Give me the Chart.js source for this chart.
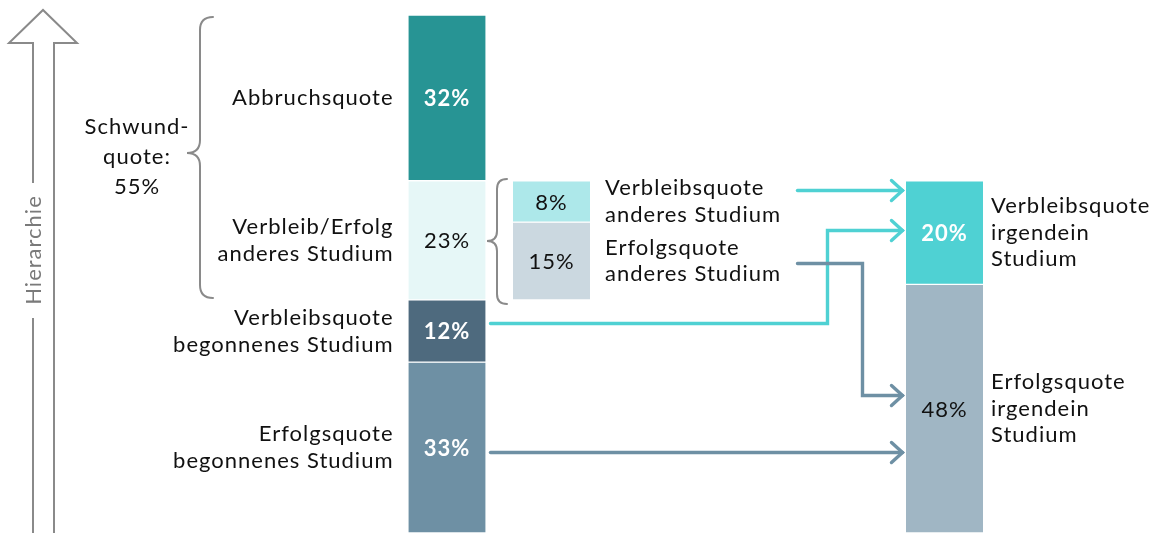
<!DOCTYPE html>
<html>
<head>
<meta charset="utf-8">
<script src="https://cdn.jsdelivr.net/npm/chart.js@4.4.1/dist/chart.umd.min.js"></script>
<style>
  html, body { margin: 0; background: #fff; }
  #wrap { width: 1161px; height: 533px; position: relative; }
</style>
</head>
<body>
<div id="wrap"><canvas id="chart"></canvas></div>
<script>
// Anteile in Prozent, von unten nach oben gestapelt
const begonnenLabels = ['Erfolgsquote\nbegonnenes Studium', 'Verbleibsquote\nbegonnenes Studium', 'Verbleib/Erfolg\nanderes Studium', 'Abbruchsquote'];
const begonnenValues = [33, 12, 23, 32];
const begonnenColors = ['#6e90a4', '#4e6a7e', '#e6f7f7', '#279494'];

const anderesLabels = ['Erfolgsquote\nanderes Studium', 'Verbleibsquote\nanderes Studium'];
const anderesValues = [15, 8];
const anderesColors = ['#cbd8e0', '#ade8ea'];

const irgendeinLabels = ['Erfolgsquote\nirgendein\nStudium', 'Verbleibsquote\nirgendein\nStudium'];
const irgendeinValues = [48, 20];
const irgendeinColors = ['#a0b6c4', '#4fd1d3'];

const schwundText = ['Schwund-', 'quote:', '55%'];
const hierarchieText = 'Hierarchie';

// layout
const COL_X = [447, 551.5, 944.5];
const BAR_W = 77;
const FONT = '"Lato", "Liberation Sans", sans-serif';
const TEXT = '#111111';
const TEAL = '#4fd1d3';
const SLATE = '#6e90a4';
const GREY = '#8a8a8a';

// the "anderes Studium" column sits on top of the begonnenes part (33 + 12)
const anderesBase = begonnenValues[0] + begonnenValues[1];

function stack(values, base, x) {
  let lo = base;
  return values.map(v => {
    const r = { x: x, y: [lo, lo + v] };
    lo += v;
    return r;
  });
}

function pct(v) { return v + '%'; }

// connectors: [x, y%] points
const arrows = [
  { color: TEAL, pts: [[797, 66.2], [902, 66.2]] },
  { color: TEAL, pts: [[490, 40.5], [827, 40.5], [827, 58.5], [902, 58.5]] },
  { color: SLATE, pts: [[797, 52.1], [862, 52.1], [862, 26.6], [902, 26.6]] },
  { color: SLATE, pts: [[490, 15.6], [902, 15.6]] }
];

function drawBrace(ctx, xEnd, xSpine, xTip, top, mid, bottom, r) {
  ctx.beginPath();
  ctx.moveTo(xEnd, top);
  ctx.quadraticCurveTo(xSpine, top, xSpine, top + r);
  ctx.lineTo(xSpine, mid - r);
  ctx.quadraticCurveTo(xSpine, mid, xTip, mid);
  ctx.quadraticCurveTo(xSpine, mid, xSpine, mid + r);
  ctx.lineTo(xSpine, bottom - r);
  ctx.quadraticCurveTo(xSpine, bottom, xEnd, bottom);
  ctx.stroke();
}

function drawLines(ctx, lines, x, yc, lh) {
  const y0 = yc - (lines.length - 1) * lh / 2;
  lines.forEach((l, i) => ctx.fillText(l, x, y0 + i * lh));
}

const overlay = {
  id: 'overlay',
  afterDatasetsDraw(chart) {
    const ctx = chart.ctx;
    const xs = chart.scales.x, ys = chart.scales.y;
    ctx.save();
    ctx.letterSpacing = '1px';
    ctx.textBaseline = 'middle';

    // values inside the bars and labels beside them
    const groups = [
      { labels: begonnenLabels, values: begonnenValues, bold: [true, true, false, true], side: 'left' },
      { labels: anderesLabels, values: anderesValues, bold: [false, false], side: 'right', gap: 15 },
      { labels: irgendeinLabels, values: irgendeinValues, bold: [false, true], side: 'right', gap: 8 }
    ];
    groups.forEach((g, di) => {
      const meta = chart.getDatasetMeta(di);
      meta.data.forEach((el, i) => {
        const yc = (el.y + el.base) / 2;
        ctx.textAlign = 'center';
        ctx.font = (g.bold[i] ? 'bold ' : '') + '22px ' + FONT;
        ctx.fillStyle = g.bold[i] ? '#ffffff' : TEXT;
        ctx.fillText(pct(g.values[i]), el.x, yc + 1);

        ctx.font = '22px ' + FONT;
        ctx.fillStyle = TEXT;
        const lines = g.labels[i].split('\n');
        if (g.side === 'left') {
          ctx.textAlign = 'right';
          drawLines(ctx, lines, el.x - BAR_W / 2 - 15, yc, 27);
        } else {
          ctx.textAlign = 'left';
          drawLines(ctx, lines, el.x + BAR_W / 2 + g.gap, yc, 26.5);
        }
      });
    });

    // Schwundquote label
    ctx.textAlign = 'center';
    ctx.font = '22px ' + FONT;
    ctx.fillStyle = TEXT;
    drawLines(ctx, schwundText, 137, 157, 30);

    // braces
    ctx.strokeStyle = GREY;
    ctx.lineWidth = 2;
    ctx.lineCap = 'round';
    drawBrace(ctx, 213, 200, 187, ys.getPixelForValue(100) + 2, 153, ys.getPixelForValue(anderesBase) - 2, 13);
    drawBrace(ctx, 507, 497, 487, 179, 241, 304, 10);

    // connectors
    ctx.lineWidth = 3.4;
    ctx.lineJoin = 'miter';
    arrows.forEach(a => {
      ctx.strokeStyle = a.color;
      ctx.beginPath();
      a.pts.forEach((p, i) => {
        const px = Math.round(xs.getPixelForValue(p[0])) + 0.5;
        const py = Math.round(ys.getPixelForValue(p[1])) + 0.5;
        if (i === 0) ctx.moveTo(px, py); else ctx.lineTo(px, py);
      });
      ctx.stroke();
      const end = a.pts[a.pts.length - 1];
      const ex = Math.round(xs.getPixelForValue(end[0])) + 0.5;
      const ey = Math.round(ys.getPixelForValue(end[1])) + 0.5;
      ctx.beginPath();
      ctx.moveTo(ex - 11, ey - 10);
      ctx.lineTo(ex, ey);
      ctx.lineTo(ex - 11, ey + 10);
      ctx.stroke();
    });

    // hierarchy arrow
    ctx.strokeStyle = GREY;
    ctx.lineWidth = 2;
    ctx.lineJoin = 'miter';
    ctx.lineCap = 'butt';
    ctx.beginPath();
    ctx.moveTo(33, 540);
    ctx.lineTo(33, 318);
    ctx.moveTo(33, 183);
    ctx.lineTo(33, 43);
    ctx.lineTo(9, 43);
    ctx.lineTo(43, 10);
    ctx.lineTo(77, 43);
    ctx.lineTo(54, 43);
    ctx.lineTo(54, 540);
    ctx.stroke();

    ctx.save();
    ctx.translate(34, 250);
    ctx.rotate(-Math.PI / 2);
    ctx.textAlign = 'center';
    ctx.fillStyle = '#7a7a7a';
    ctx.font = '22px ' + FONT;
    ctx.fillText(hierarchieText, 0, 0);
    ctx.restore();

    ctx.restore();
  }
};

const barStyle = {
  barThickness: BAR_W,
  grouped: false,
  borderColor: '#ffffff',
  borderWidth: { top: 1, bottom: 1, left: 0, right: 0 },
  borderSkipped: false
};

new Chart(document.getElementById('chart'), {
  type: 'bar',
  data: {
    datasets: [
      Object.assign({ label: 'begonnenes Studium', data: stack(begonnenValues, 0, COL_X[0]), backgroundColor: begonnenColors }, barStyle),
      Object.assign({ label: 'anderes Studium', data: stack(anderesValues, anderesBase, COL_X[1]), backgroundColor: anderesColors }, barStyle),
      Object.assign({ label: 'irgendein Studium', data: stack(irgendeinValues, 0, COL_X[2]), backgroundColor: irgendeinColors }, barStyle)
    ]
  },
  options: {
    responsive: true,
    maintainAspectRatio: false,
    animation: false,
    events: [],
    layout: { padding: { top: 15, bottom: 0, left: 0, right: 0 } },
    scales: {
      x: { type: 'linear', min: 0, max: 1161, display: false, offset: false },
      y: { min: 0, max: 100, display: false }
    },
    plugins: {
      legend: { display: false },
      tooltip: { enabled: false }
    }
  },
  plugins: [overlay]
});
</script>
</body>
</html>
